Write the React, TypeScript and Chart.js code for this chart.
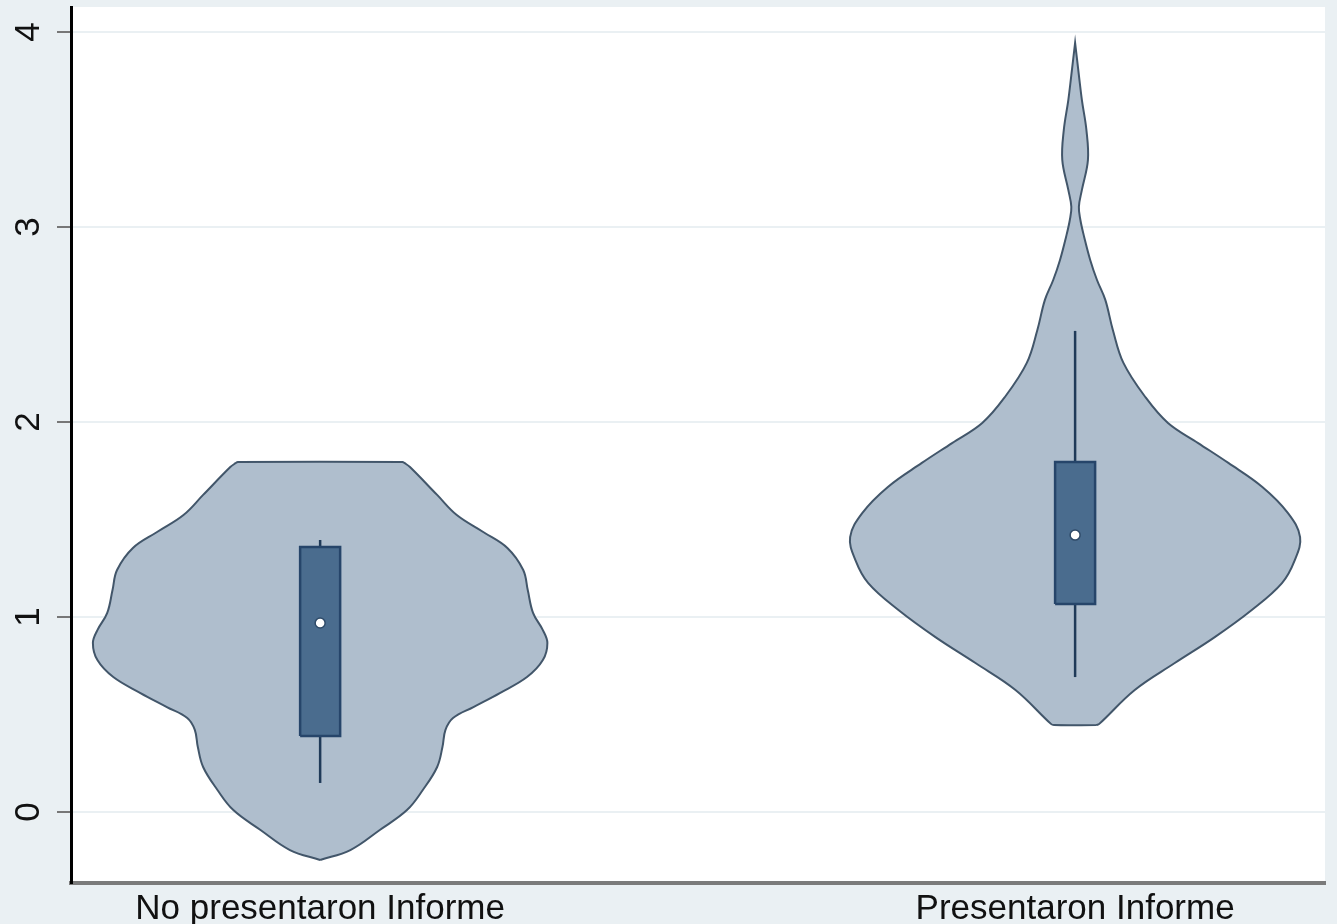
import { useEffect, useRef } from 'react';
import { Chart, registerables } from 'chart.js';

Chart.register(...registerables);

// ---- data ----
const categories = ['No presentaron Informe', 'Presentaron Informe'];
const yTicks = [0, 1, 2, 3, 4];

// violin outline (kernel density): y values and half-widths in x-axis units
const violin1Y = [-0.246, -0.195, -0.092, 0.010, 0.113, 0.231, 0.333, 0.421, 0.482, 0.538, 0.610, 0.692, 0.779, 0.867, 0.933, 1.021, 1.138, 1.241, 1.354, 1.436, 1.523, 1.626, 1.769, 1.789, 1.795];
const violin1W = [0, 0.040, 0.079, 0.115, 0.136, 0.155, 0.162, 0.166, 0.176, 0.203, 0.238, 0.274, 0.295, 0.301, 0.295, 0.282, 0.275, 0.269, 0.248, 0.216, 0.181, 0.155, 0.119, 0.112, 0.109];

const violin2Y = [0.446, 0.452, 0.626, 0.764, 0.897, 1.036, 1.174, 1.292, 1.410, 1.533, 1.667, 1.790, 1.892, 1.995, 2.128, 2.303, 2.472, 2.626, 2.728, 2.831, 2.949, 3.036, 3.103, 3.190, 3.344, 3.497, 3.651, 3.779, 3.944];
const violin2W = [0.028, 0.032, 0.079, 0.132, 0.185, 0.234, 0.274, 0.291, 0.298, 0.282, 0.248, 0.203, 0.163, 0.123, 0.093, 0.064, 0.050, 0.040, 0.029, 0.020, 0.012, 0.007, 0.005, 0.009, 0.017, 0.015, 0.009, 0.005, 0];

const q1 = [0.390, 1.067];
const q3 = [1.359, 1.795];
const medians = [0.969, 1.420];
const lowerAdjacent = [0.149, 0.692];
const upperAdjacent = [1.395, 2.467];

// ---- styles ----
const BOX_HALF = 0.0265;
const FONT = { family: 'Liberation Sans, Arial, Helvetica, sans-serif', size: 35 };

function violinPolygon(center: number, ys: number[], ws: number[]) {
  const pts: { x: number; y: number }[] = [];
  for (let i = 0; i < ys.length; i++) pts.push({ x: center + ws[i], y: ys[i] });
  for (let i = ys.length - 1; i >= 0; i--) pts.push({ x: center - ws[i], y: ys[i] });
  pts.push({ ...pts[0] });
  return pts;
}

function boxPolygon(center: number, lo: number, hi: number) {
  return [
    { x: center - BOX_HALF, y: lo },
    { x: center + BOX_HALF, y: lo },
    { x: center + BOX_HALF, y: hi },
    { x: center - BOX_HALF, y: hi },
    { x: center - BOX_HALF, y: lo },
  ];
}

const plotBg = {
  id: 'plotBg',
  beforeDraw(chart: any) {
    const { ctx, chartArea: a } = chart;
    ctx.save();
    ctx.fillStyle = '#ffffff';
    ctx.fillRect(a.left, a.top, a.right - a.left, a.bottom - a.top);
    ctx.restore();
  },
};

export default function App() {
  const ref = useRef<HTMLCanvasElement | null>(null);

  useEffect(() => {
    if (!ref.current) return;
    const violins = [
      violinPolygon(1, violin1Y, violin1W),
      violinPolygon(2, violin2Y, violin2W),
    ];
    const datasets: any[] = [];
    violins.forEach((pts) => {
      datasets.push({
        data: pts,
        showLine: true,
        fill: 'shape',
        backgroundColor: '#afbecd',
        borderColor: '#42566a',
        borderWidth: 2,
        pointRadius: 0,
        tension: 0.38,
        order: 4,
      });
    });
    categories.forEach((_, i) => {
      const c = i + 1;
      datasets.push({
        data: [{ x: c, y: lowerAdjacent[i] }, { x: c, y: q1[i] }],
        showLine: true,
        borderColor: '#1f3a58',
        borderWidth: 2.5,
        pointRadius: 0,
        order: 3,
      });
      datasets.push({
        data: [{ x: c, y: q3[i] }, { x: c, y: upperAdjacent[i] }],
        showLine: true,
        borderColor: '#1f3a58',
        borderWidth: 2.5,
        pointRadius: 0,
        order: 3,
      });
      datasets.push({
        data: boxPolygon(c, q1[i], q3[i]),
        showLine: true,
        fill: 'shape',
        backgroundColor: '#4a6c8e',
        borderColor: '#26456a',
        borderWidth: 2.5,
        pointRadius: 0,
        order: 2,
      });
    });
    datasets.push({
      data: medians.map((m, i) => ({ x: i + 1, y: m })),
      pointRadius: 5,
      pointBackgroundColor: '#ffffff',
      pointBorderColor: '#2e4a68',
      pointBorderWidth: 1.5,
      order: 1,
    });

    const chart = new Chart(ref.current, {
      type: 'scatter',
      data: { datasets },
      plugins: [plotBg],
      options: {
        responsive: false,
        animation: false,
        devicePixelRatio: 1,
        events: [],
        layout: { padding: { top: 7, right: 12, left: 0, bottom: 0 } },
        plugins: { legend: { display: false }, tooltip: { enabled: false } },
        scales: {
          x: {
            type: 'linear',
            min: 0.67,
            max: 2.331,
            afterBuildTicks: (s: any) => {
              s.ticks = categories.map((_, i) => ({ value: i + 1 }));
            },
            afterFit: (s: any) => {
              s.height = 41;
              s.paddingLeft = 0;
              s.paddingRight = 0;
            },
            ticks: {
              autoSkip: false,
              maxRotation: 0,
              minRotation: 0,
              padding: 5,
              color: '#111111',
              font: FONT,
              callback: (v: any) => categories[Math.round(Number(v)) - 1] ?? '',
            },
            grid: { display: false, drawTicks: false },
            border: { display: true, color: '#7b7b7b', width: 4 },
          },
          y: {
            type: 'linear',
            min: -0.364,
            max: 4.128,
            afterBuildTicks: (s: any) => {
              s.ticks = yTicks.map((v) => ({ value: v }));
            },
            afterFit: (s: any) => {
              s.width = 71;
              s.paddingTop = 0;
              s.paddingBottom = 0;
            },
            ticks: {
              minRotation: 90,
              maxRotation: 90,
              crossAlign: 'center',
              padding: 18,
              color: '#111111',
              font: FONT,
            },
            grid: { color: '#eaf0f3', lineWidth: 2, tickColor: '#777777', tickLength: 14, tickWidth: 2 },
            border: { display: true, color: '#000000', width: 3 },
          },
        },
      } as any,
    });
    return () => chart.destroy();
  }, []);

  return (
    <div style={{ position: 'fixed', left: 0, top: 0, width: 1337, height: 924, background: '#eaf0f3' }}>
      <canvas ref={ref} width={1337} height={924} style={{ display: 'block' }} />
    </div>
  );
}
